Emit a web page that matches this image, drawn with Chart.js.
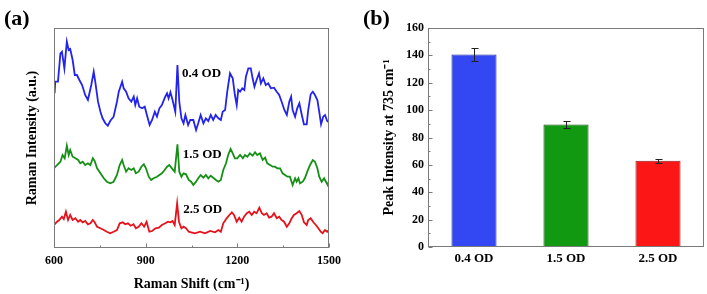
<!DOCTYPE html>
<html>
<head>
<meta charset="utf-8">
<script src="https://cdn.jsdelivr.net/npm/chart.js@4.4.0/dist/chart.umd.min.js"></script>
<style>
  body { margin: 0; background: #fff; width: 707px; height: 294px; position: relative; overflow: hidden; }
  .panel { position: absolute; top: 0; height: 294px; }
  #wrapA { left: 0; width: 342px; }
  #wrapB { left: 355px; width: 352px; }
  .tag { position: absolute; top: 7px; font: bold 22px/22px "Liberation Serif", serif; color: #000; }
</style>
</head>
<body>
<div class="panel" id="wrapA"><canvas id="spectra"></canvas></div>
<div class="panel" id="wrapB"><canvas id="peaks"></canvas></div>
<div class="tag" style="left:4px">(a)</div>
<div class="tag" style="left:363px">(b)</div>
<script>
// (a) Raman spectra, vertically offset, arbitrary units
const shift04 = [602,604,613,621,626,634,642,648,653,661,668,675,683,692,702,711,722,730,735,744,752,759,768,776,784,795,806,812,823,828,836,844,853,861,866,872,879,888,897,904,913,921,930,937,945,953,964,970,975,981,988,997,1004,1010,1017,1024,1030,1039,1046,1056,1065,1072,1080,1089,1097,1105,1113,1121,1129,1138,1146,1152,1160,1167,1176,1185,1192,1198,1203,1209,1216,1223,1228,1236,1244,1250,1256,1263,1271,1277,1285,1293,1301,1310,1320,1329,1337,1345,1354,1362,1370,1376,1381,1389,1396,1403,1411,1418,1427,1432,1440,1447,1454,1462,1468,1474,1481,1487,1494,1500];
const int04 = [154.7,166.3,166.3,194.7,196.3,179.7,206.3,198,199,188,173,173,168,163,153,148,163,176.3,166.3,146.3,136.3,129.7,124.7,122.3,127,131.3,146.3,156.3,166.3,159.7,156.3,149.7,146.3,151.3,143,149.7,141.3,139.7,141.3,133,123,128,136.3,131.3,139.7,143,151.3,154.7,149.7,155.7,148,136.3,183,146.3,129.7,124.7,133,123,128,128,118,124.7,133,124.7,129.7,127,133,128,133,129.7,128,136.3,138,156.3,174.7,169.7,153,143,158,156.3,159.7,158,171.3,179.7,179.7,169.7,161.3,168,174.7,164.7,169.7,163,164.7,159.7,160.3,156.3,153,146.3,138,133,146.3,151.3,138,131.3,139.7,144.7,133,123.7,123.7,138,153.7,156.3,153,148,136.3,123.7,131.3,133,127,125.7];

const shift15 = [602,610,621,628,635,642,648,653,661,670,679,686,694,702,711,719,727,733,741,752,763,773,784,795,806,815,823,828,836,844,853,861,868,877,886,894,901,910,918,926,937,945,953,962,970,977,986,995,1004,1010,1017,1024,1032,1041,1049,1056,1065,1072,1080,1089,1097,1105,1113,1121,1130,1138,1146,1154,1163,1170,1178,1185,1192,1200,1209,1218,1225,1233,1241,1250,1258,1265,1274,1283,1291,1298,1307,1316,1323,1331,1340,1348,1356,1364,1372,1381,1389,1394,1400,1405,1414,1421,1429,1438,1447,1454,1462,1468,1476,1484,1490,1496,1500];
const int15 = [80.3,83,86.3,93,89.7,102.3,93,98,91.3,89.7,88,84.7,86.3,83,84.7,83,89.7,87,79.7,74.7,69.7,66.3,64.7,66.3,73,83,88,83,76.3,79.7,78,79.7,74.7,76.3,81.3,83.7,79.7,71.3,68,69.7,71.3,73,74.7,78,81.3,83,79.7,76.3,103.7,76.3,71.3,74.7,73.7,68,66.3,63,66.3,69.7,73,70.3,73,69.7,72.3,70.3,68,66.3,68,78,84.7,93,99,94.7,89.7,89.7,93,89.7,93,91.3,94.7,92.3,95.7,93,94.7,88,90.3,84.7,83,81.3,81.3,79.7,79.7,74.7,73,71.3,71.3,63,69.7,66.3,69.7,64.7,66.3,69.7,76.3,83,88,86.3,79.7,71.3,66.3,69.7,66.3,63,66.3];

const shift25 = [602,610,617,626,632,639,646,653,661,670,679,686,694,702,711,719,727,733,741,752,763,773,784,795,806,815,825,833,842,851,860,868,877,886,895,903,912,921,932,943,953,964,973,981,988,995,1003,1009,1017,1024,1032,1041,1049,1061,1078,1094,1111,1127,1138,1146,1154,1165,1174,1182,1189,1198,1206,1214,1222,1231,1239,1247,1255,1263,1272,1280,1287,1296,1304,1312,1320,1329,1337,1345,1353,1362,1370,1378,1385,1394,1403,1411,1418,1427,1432,1440,1449,1457,1465,1473,1479,1487,1494,1500];
const int25 = [23.7,26.3,28,31.3,29,36.3,28,33,28,29.7,26.3,28,25.7,27,23.7,24.7,28,25.7,21.3,19.7,18,16.3,14.7,16.3,18,24.7,25.7,23.7,24.7,22.3,23.7,19.7,21.3,24.7,21.3,26.3,16.3,17,19.7,20.3,23,24.7,26.3,25.7,27,23,44.7,26.3,19.7,21.3,19.7,16.3,15.7,14.7,16.3,14.7,17,15.7,18,16.3,24.7,29.7,33,35.7,33,26.3,30.3,26.3,31.3,34.7,36.3,33,36.3,34.7,40.3,34.7,33,34.7,30.3,31.3,34.7,29.7,31.3,28,26.3,21.3,24.7,29.7,33,34.7,37,33,25.7,23,28,29.7,25.7,23,19.7,16.3,14.7,18,16.3,18];

const shiftTicks = [600, 900, 1200, 1500];
const shiftMinor = [750, 1050, 1350];

// (b) peak intensity at 735 cm-1
const samples = ['0.4 OD', '1.5 OD', '2.5 OD'];
const peakIntensity = [140.7, 89.5, 63.0];
const peakError = [4.6, 2.6, 1.4];

const serif = '"Liberation Serif", "Times New Roman", serif';
const black = '#000';

function points(xs, ys) {
    return xs.map((x, i) => ({ x: x, y: ys[i] }));
}

// box round the plot area, with short ticks pointing inward
const framePlugin = {
    id: 'frame',
    afterDraw(chart, args, opts) {
        const ctx = chart.ctx;
        const a = chart.chartArea;
        const l = Math.round(a.left) + 0.5, r = Math.round(a.right) - 0.5;
        const t = Math.round(a.top) + 0.5, b = Math.round(a.bottom) - 0.5;
        ctx.save();
        ctx.strokeStyle = '#7a7a7a';
        ctx.lineWidth = 1;
        ctx.strokeRect(l, t, r - l, b - t);
        (opts.marks || []).forEach(m => {
            const scale = chart.scales[m.axis];
            m.values.forEach(v => {
                const p = Math.round(scale.getPixelForValue(v)) + 0.5;
                ctx.beginPath();
                if (m.axis === 'x') {
                    ctx.moveTo(p, b);
                    ctx.lineTo(p, b - m.len);
                } else {
                    ctx.moveTo(l, p);
                    ctx.lineTo(l + m.len, p);
                }
                ctx.stroke();
            });
        });
        ctx.restore();
    }
};

// sample names written beside each spectrum
const tracePlugin = {
    id: 'traceLabels',
    afterDatasetsDraw(chart, args, opts) {
        const ctx = chart.ctx;
        const xs = chart.scales.x, ys = chart.scales.y;
        ctx.save();
        ctx.font = 'bold 13px ' + serif;
        ctx.fillStyle = black;
        ctx.textAlign = 'left';
        ctx.textBaseline = 'middle';
        opts.items.forEach(it => {
            ctx.fillText(it.text, xs.getPixelForValue(it.x), ys.getPixelForValue(it.y));
        });
        ctx.restore();
    }
};

const errorBarPlugin = {
    id: 'errorBars',
    afterDatasetsDraw(chart) {
        const ctx = chart.ctx;
        const ys = chart.scales.y;
        const meta = chart.getDatasetMeta(0);
        ctx.save();
        ctx.strokeStyle = '#222';
        ctx.lineWidth = 1;
        meta.data.forEach((bar, i) => {
            const x = Math.round(bar.x) + 0.5;
            const hi = Math.round(ys.getPixelForValue(peakIntensity[i] + peakError[i])) + 0.5;
            const lo = Math.round(ys.getPixelForValue(peakIntensity[i] - peakError[i])) + 0.5;
            ctx.beginPath();
            ctx.moveTo(x, hi); ctx.lineTo(x, lo);
            ctx.moveTo(x - 3, hi); ctx.lineTo(x + 4, hi);
            ctx.moveTo(x - 3, lo); ctx.lineTo(x + 4, lo);
            ctx.stroke();
        });
        ctx.restore();
    }
};

const spectraChart = new Chart(document.getElementById('spectra'), {
    type: 'line',
    data: {
        datasets: [
            { label: '0.4 OD', data: points(shift04, int04), borderColor: '#2323ee' },
            { label: '1.5 OD', data: points(shift15, int15), borderColor: '#159015' },
            { label: '2.5 OD', data: points(shift25, int25), borderColor: '#e5121c' }
        ]
    },
    options: {
        responsive: true,
        maintainAspectRatio: false,
        animation: false,
        elements: { point: { radius: 0 }, line: { borderWidth: 1.8, tension: 0 } },
        layout: { padding: { top: 28, right: 13, left: 0, bottom: 0 } },
        plugins: {
            legend: { display: false },
            tooltip: { enabled: false },
            frame: { marks: [
                { axis: 'x', values: shiftTicks, len: 4 },
                { axis: 'x', values: shiftMinor, len: 2 }
            ] },
            traceLabels: { items: [
                { text: '0.4 OD', x: 1019, y: 174 },
                { text: '1.5 OD', x: 1021, y: 93 },
                { text: '2.5 OD', x: 1023, y: 38 }
            ] }
        },
        scales: {
            x: {
                type: 'linear',
                min: 600, max: 1500,
                afterBuildTicks: s => { s.ticks = shiftTicks.map(v => ({ value: v })); },
                afterFit: s => { s.height = 46; s.paddingLeft = 0; s.paddingRight = 0; },
                grid: { display: false, drawTicks: false },
                border: { display: false },
                ticks: {
                    color: black, padding: 6, maxRotation: 0,
                    callback: v => String(v),
                    font: { family: serif, size: 12, weight: 'bold' }
                },
                title: {
                    display: true,
                    text: 'Raman Shift (cm\u207B\u00B9)',
                    color: black,
                    padding: { top: 0, bottom: 1 },
                    font: { family: serif, size: 14, weight: 'bold' }
                }
            },
            y: {
                min: 0, max: 220,
                afterFit: s => { s.width = 54; },
                grid: { display: false, drawTicks: false },
                border: { display: false },
                ticks: { display: false },
                title: {
                    display: true,
                    text: 'Raman Intensity (a.u.)',
                    color: black,
                    padding: { top: 24, bottom: 0 },
                    font: { family: serif, size: 14, weight: 'bold' }
                }
            }
        }
    },
    plugins: [framePlugin, tracePlugin]
});

const peakChart = new Chart(document.getElementById('peaks'), {
    type: 'bar',
    data: {
        labels: samples,
        datasets: [{
            label: 'Peak Intensity',
            data: peakIntensity,
            backgroundColor: ['#3347f2', '#119a11', '#fd1616'],
            borderColor: ['#1c2a9c', '#0c4f0c', '#8c1a1a'],
            borderWidth: 1,
            categoryPercentage: 1,
            barPercentage: 0.49
        }]
    },
    options: {
        responsive: true,
        maintainAspectRatio: false,
        animation: false,
        layout: { padding: { top: 28, right: 3, left: 0, bottom: 0 } },
        plugins: {
            legend: { display: false },
            tooltip: { enabled: false },
            frame: { marks: [
                { axis: 'y', values: [0, 20, 40, 60, 80, 100, 120, 140, 160], len: 4 },
                { axis: 'y', values: [10, 30, 50, 70, 90, 110, 130, 150], len: 2 }
            ] }
        },
        scales: {
            x: {
                afterFit: s => { s.height = 47; },
                grid: { display: false, drawTicks: false },
                border: { display: false },
                ticks: { color: black, padding: 4, font: { family: serif, size: 13, weight: 'bold' } }
            },
            y: {
                min: 0, max: 160,
                afterFit: s => { s.width = 73; },
                grid: { display: false, drawTicks: false },
                border: { display: false },
                ticks: { stepSize: 20, color: black, padding: 4, font: { family: serif, size: 12, weight: 'bold' } },
                title: {
                    display: true,
                    text: 'Peak Intensity at 735 cm\u207B\u00B9',
                    color: black,
                    padding: { top: 26, bottom: 0 },
                    font: { family: serif, size: 14, weight: 'bold' }
                }
            }
        }
    },
    plugins: [framePlugin, errorBarPlugin]
});
</script>
</body>
</html>
